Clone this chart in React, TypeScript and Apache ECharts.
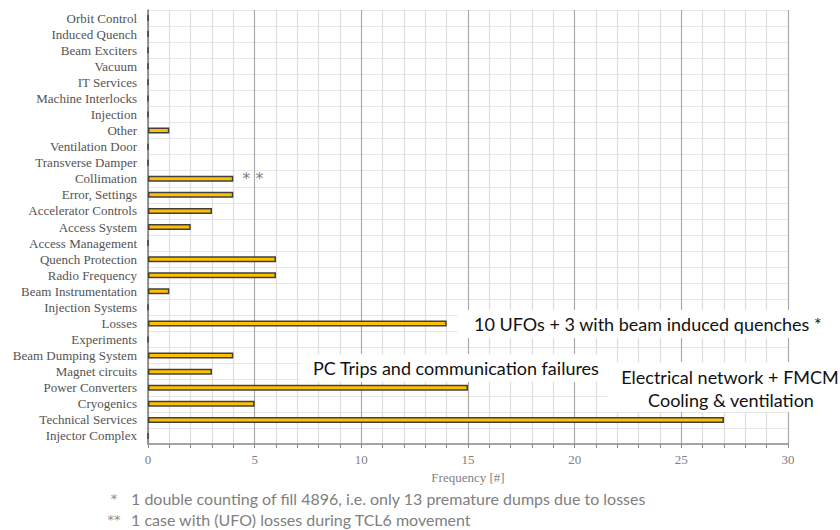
import React, { useEffect, useRef } from "react";
import * as echarts from "echarts";

const categories = [
  "Injector Complex",
  "Technical Services",
  "Cryogenics",
  "Power Converters",
  "Magnet circuits",
  "Beam Dumping System",
  "Experiments",
  "Losses",
  "Injection Systems",
  "Beam Instrumentation",
  "Radio Frequency",
  "Quench Protection",
  "Access Management",
  "Access System",
  "Accelerator Controls",
  "Error, Settings",
  "Collimation",
  "Transverse Damper",
  "Ventilation Door",
  "Other",
  "Injection",
  "Machine Interlocks",
  "IT Services",
  "Vacuum",
  "Beam Exciters",
  "Induced Quench",
  "Orbit Control",
];

const frequencies = [
  0, 27, 5, 15, 3, 4, 0, 14, 0, 1, 6, 6, 0, 2, 3, 4, 4, 0, 0, 1, 0, 0, 0, 0, 0, 0, 0,
];

const axisTitle = "Frequency [#]";
const xMin = 0;
const xMax = 30;
const xMinorInterval = 1;
const xLabelEvery = 5;

const notes = [
  "10 UFOs + 3 with beam induced quenches *",
  "PC Trips and communication failures",
  "Electrical network + FMCM",
  "Cooling & ventilation",
];
const footnoteMarks = ["*", "**"];
const footnotes = [
  "1 double counting of fill 4896, i.e. only 13 premature dumps due to losses",
  "1 case with (UFO) losses during TCL6 movement",
];
const collimationMark = "* *";

const SERIF = "'Liberation Serif', 'Times New Roman', serif";
const SANS = "Lato, 'Open Sans', sans-serif";
const MARK = "'DejaVu Sans', sans-serif";

export default function App() {
  const ref = useRef<HTMLDivElement>(null);
  useEffect(() => {
    if (!ref.current) return;
    const chart = echarts.init(ref.current, undefined, { renderer: "svg" });
    const noteBox = (x: number, y: number, w: number, h: number) => ({
      type: "rect",
      shape: { x, y, width: w, height: h },
      style: { fill: "#ffffff" },
      z: 10,
    });
    const noteText = (
      x: number,
      y: number,
      text: string,
      align = "left",
      size = 18,
      color = "#111111",
      family = SANS
    ) => ({
      type: "text",
      x,
      y,
      style: {
        text,
        fill: color,
        font: `${size}px ${family}`,
        textAlign: align,
        textVerticalAlign: "middle",
      },
      z: 11,
    });
    const minor = "#dcdcdc";
    chart.setOption({
      animation: false,
      backgroundColor: "#ffffff",
      grid: { left: 148, right: 52, top: 10, bottom: 86, containLabel: false },
      xAxis: {
        type: "value",
        min: xMin,
        max: xMax,
        interval: xMinorInterval,
        name: axisTitle,
        nameLocation: "middle",
        nameGap: 27,
        nameTextStyle: { fontFamily: SERIF, fontSize: 13, color: "#7f7f7f" },
        axisLine: { show: true, lineStyle: { color: "#8c8c8c", width: 1.5 } },
        axisTick: { show: true, length: 4, lineStyle: { color: "#8c8c8c" } },
        axisLabel: {
          fontFamily: SERIF,
          fontSize: 13,
          color: "#7f7f7f",
          margin: 9,
          formatter: (v: number) => (v % xLabelEvery === 0 ? String(v) : ""),
        },
        splitLine: {
          show: true,
          lineStyle: { color: ["#ababab", minor, minor, minor, minor], width: 1.2 },
        },
      },
      yAxis: {
        type: "category",
        data: categories,
        axisLine: { show: true, lineStyle: { color: "#7f7f7f", width: 1.5 } },
        axisTick: { show: false },
        axisLabel: {
          interval: 0,
          fontFamily: SERIF,
          fontSize: 13,
          color: "#545454",
          margin: 11,
        },
        splitLine: { show: true, interval: 0, lineStyle: { color: "#e8e8e8", width: 1 } },
      },
      series: [
        {
          type: "bar",
          data: frequencies.map((v, i) =>
            categories[i] === "Collimation"
              ? {
                  value: v,
                  label: {
                    show: true,
                    position: "right",
                    distance: 9,
                    formatter: collimationMark,
                    fontFamily: MARK,
                    fontSize: 16,
                    color: "#7f7f7f",
                  },
                }
              : v
          ),
          barWidth: 6,
          itemStyle: { color: "#FFC000", borderColor: "#404040", borderWidth: 1.5 },
        },
      ],
      graphic: [
        noteBox(458, 310, 372, 28),
        noteText(474, 324, notes[0]),
        noteBox(300, 354, 308, 28),
        noteText(313, 368, notes[1]),
        noteBox(608, 362, 232, 50),
        noteText(730, 377, notes[2], "center"),
        noteText(731, 400, notes[3], "center"),
        noteText(114, 498, footnoteMarks[0], "center", 13, "#8c8c8c", MARK),
        noteText(131, 498, footnotes[0], "left", 16, "#808080"),
        noteText(114, 519, footnoteMarks[1], "center", 13, "#8c8c8c", MARK),
        noteText(131, 519, footnotes[1], "left", 16, "#808080"),
      ],
    });
    return () => chart.dispose();
  }, []);
  return (
    <div
      ref={ref}
      style={{ position: "absolute", left: 0, top: 0, width: 840, height: 530 }}
    />
  );
}
